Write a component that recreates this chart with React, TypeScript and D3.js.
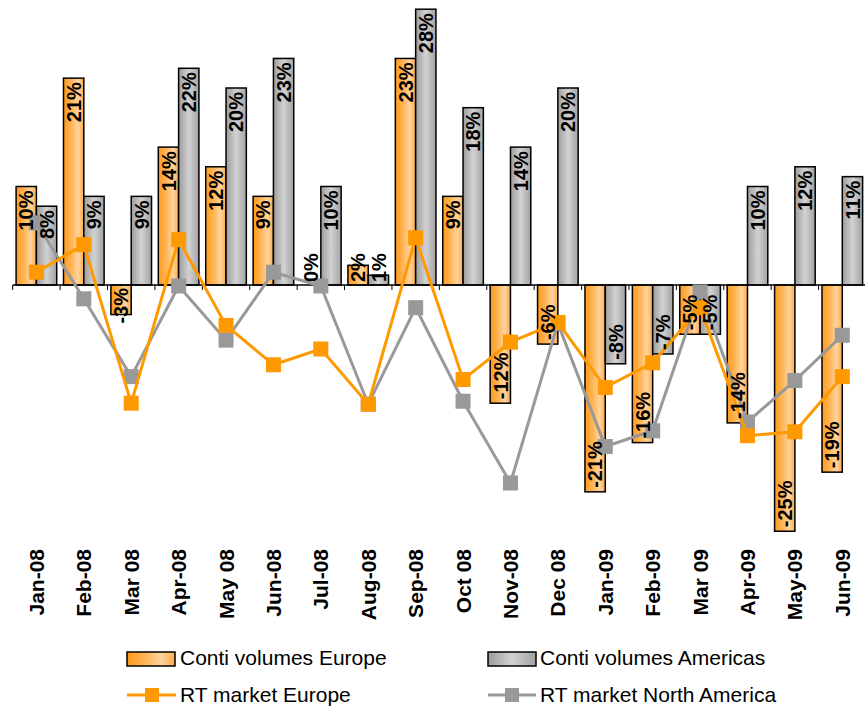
import * as d3 from "d3";

const categories = [
  "Jan-08", "Feb-08", "Mar 08", "Apr-08", "May 08", "Jun-08", "Jul-08", "Aug-08", "Sep-08",
  "Oct 08", "Nov-08", "Dec 08", "Jan-09", "Feb-09", "Mar 09", "Apr-09", "May-09", "Jun-09",
];
const contiEurope = [10, 21, -3, 14, 12, 9, 0, 2, 23, 9, -12, -6, -21, -16, -5, -14, -25, -19];
const contiAmericas = [8, 9, 9, 22, 20, 23, 10, 1, 28, 18, 14, 20, -8, -7, -5, 10, 12, 11];
const rtEurope = [1.3, 4.1, -12.0, 4.6, -4.1, -8.1, -6.5, -12.1, 4.8, -9.6, -5.8, -3.8, -10.4, -7.9, -2.3, -15.3, -14.9, -9.3];
const rtNorthAmerica = [6.3, -1.4, -9.3, -0.1, -5.6, 1.3, -0.1, -12.1, -2.3, -11.8, -20.1, -3.9, -16.4, -14.8, -0.7, -13.9, -9.7, -5.1];

const barSeries = ["europe", "americas"];

const width = 865;
const height = 707;
const font = "'Liberation Sans', Arial, sans-serif";
const labelSize = 20;

// rough width of bold arial text, for deciding where labels go
function textLen(s: string) {
  let w = 0;
  for (const c of s) w += c === "%" ? 0.889 : c === "-" ? 0.333 : 0.556;
  return w * labelSize;
}

export default function App() {
  const x0 = d3.scaleBand<string>().domain(categories).range([12.7, 866]).padding(0);
  const bw = x0.bandwidth();
  const x1 = d3.scaleBand<string>().domain(barSeries).range([0, bw]).paddingInner(0).paddingOuter(0.167);
  const y = d3.scaleLinear().domain([-30, 30]).range([285 + 295.5, 285 - 295.5]);
  const y0 = y(0);

  const cx = (i: number) => (x0(categories[i]) as number) + bw / 2;
  const line = d3.line<number>().x((_, i) => cx(i)).y(d => y(d));

  const bars = [
    { key: "europe", values: contiEurope, fill: "url(#gOrange)" },
    { key: "americas", values: contiAmericas, fill: "url(#gGray)" },
  ];
  const lines = [
    { values: rtNorthAmerica, color: "#999999" },
    { values: rtEurope, color: "#FF9900" },
  ];

  const labels: { x: number; y: number; anchor: string; text: string }[] = [];
  bars.forEach(s => {
    s.values.forEach((v, i) => {
      const bx = (x0(categories[i]) as number) + (x1(s.key) as number) + x1.bandwidth() / 2;
      const text = `${v}%`;
      const len = Math.abs(y(v) - y0);
      const tl = textLen(text);
      if (v >= 0) {
        if (len >= tl + 8) labels.push({ x: bx, y: y(v) + 4, anchor: "end", text });
        else labels.push({ x: bx, y: y0 - 3, anchor: "start", text });
      } else {
        if (len >= tl + 8) labels.push({ x: bx, y: y(v) - 4, anchor: "start", text });
        else labels.push({ x: bx, y: y0 + 3, anchor: "end", text });
      }
    });
  });

  const ticks = d3.range(categories.length + 1).map(i => 12.7 + i * x0.step());

  return (
    <svg width={width} height={height} style={{ position: "absolute", left: 0, top: 0, background: "#fff" }}>
      <defs>
        <linearGradient id="gOrange" x1="0" x2="1" y1="0" y2="0">
          <stop offset="0" stopColor="#FF9A1E" />
          <stop offset="0.35" stopColor="#FFB24F" />
          <stop offset="0.72" stopColor="#FFD49E" />
          <stop offset="1" stopColor="#FFAA45" />
        </linearGradient>
        <linearGradient id="gGray" x1="0" x2="1" y1="0" y2="0">
          <stop offset="0" stopColor="#9C9C9C" />
          <stop offset="0.5" stopColor="#D2D2D2" />
          <stop offset="1" stopColor="#A2A2A2" />
        </linearGradient>
      </defs>

      {bars.map(s => (
        <g key={s.key}>
          {s.values.map((v, i) => (
            <rect
              key={i}
              x={(x0(categories[i]) as number) + (x1(s.key) as number)}
              y={Math.min(y(v), y0)}
              width={x1.bandwidth()}
              height={Math.abs(y(v) - y0)}
              fill={s.fill}
              stroke="#000"
              strokeWidth={1.5}
            />
          ))}
        </g>
      ))}

      <line x1={12.7} x2={866} y1={y0} y2={y0} stroke="#000" strokeWidth={1.5} />
      {ticks.map((t, i) => (
        <line key={i} x1={t} x2={t} y1={y0} y2={y0 + 5} stroke="#000" strokeWidth={1} />
      ))}

      {lines.map((l, k) => (
        <g key={k}>
          <path d={line(l.values) ?? ""} fill="none" stroke={l.color} strokeWidth={3} />
          {l.values.map((v, i) => (
            <rect key={i} x={cx(i) - 7.5} y={y(v) - 7.5} width={15} height={15} fill={l.color} />
          ))}
        </g>
      ))}

      {labels.map((d, i) => (
        <text
          key={i}
          transform={`translate(${d.x},${d.y}) rotate(-90)`}
          dy="0.36em"
          textAnchor={d.anchor}
          fontFamily={font}
          fontWeight="bold"
          fontSize={labelSize}
          fill="#000"
        >
          {d.text}
        </text>
      ))}

      {categories.map((c, i) => (
        <text
          key={c}
          transform={`translate(${cx(i)},549) rotate(-90)`}
          dy="0.36em"
          textAnchor="end"
          fontFamily={font}
          fontWeight="bold"
          fontSize={21}
          fill="#000"
        >
          {c}
        </text>
      ))}

      <g fontFamily={font} fontSize={21} fill="#000">
        <rect x={127} y={652} width={48} height={14} fill="url(#gOrange)" stroke="#000" strokeWidth={1.5} />
        <text x={180} y={665}>Conti volumes Europe</text>
        <rect x={488} y={652} width={48} height={14} fill="url(#gGray)" stroke="#000" strokeWidth={1.5} />
        <text x={540} y={665}>Conti volumes Americas</text>

        <line x1={127} x2={176} y1={695} y2={695} stroke="#FF9900" strokeWidth={3} />
        <rect x={145} y={688} width={14} height={14} fill="#FF9900" />
        <text x={180} y={702}>RT market Europe</text>
        <line x1={488} x2={536} y1={695} y2={695} stroke="#999999" strokeWidth={3} />
        <rect x={505} y={688} width={14} height={14} fill="#999999" />
        <text x={540} y={702}>RT market North America</text>
      </g>
    </svg>
  );
}
